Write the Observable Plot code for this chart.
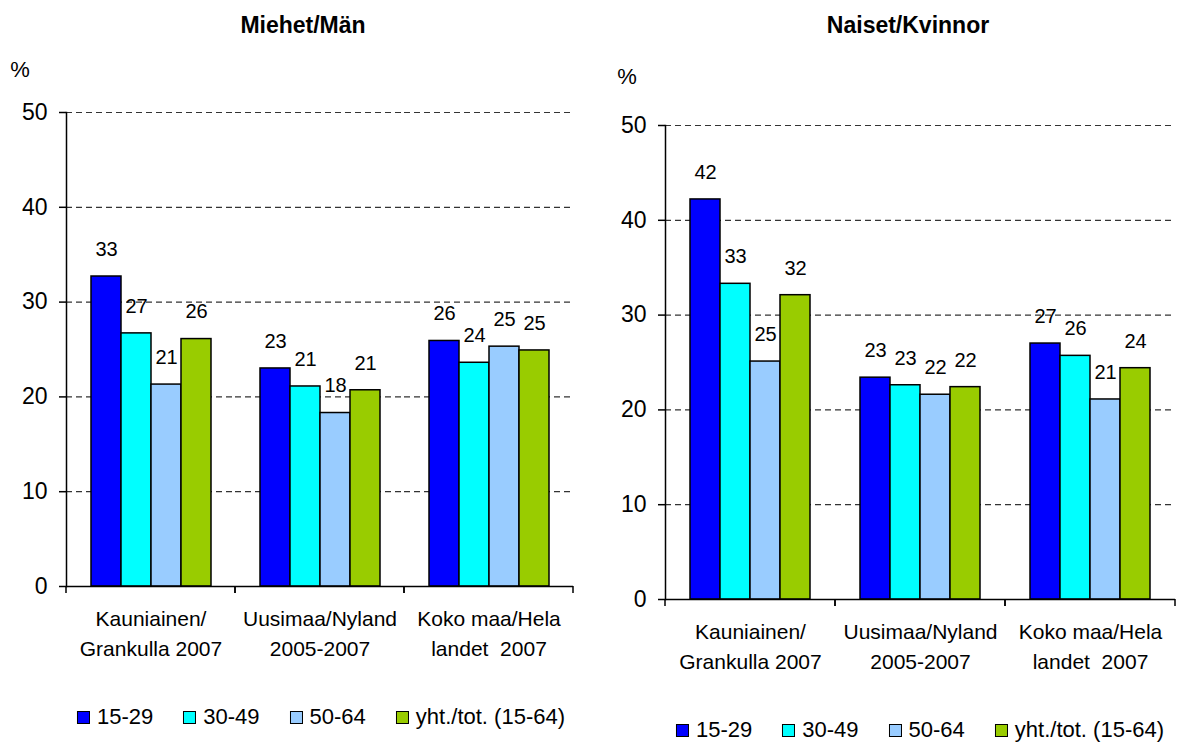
<!DOCTYPE html>
<html><head><meta charset="utf-8">
<script src="https://cdn.jsdelivr.net/npm/d3@7"></script>
<script src="https://cdn.jsdelivr.net/npm/@observablehq/plot@0.6"></script>
<style>
body{margin:0;background:#fff;font-family:"Liberation Sans",Arial,sans-serif;color:#000;}
#root{position:relative;width:1191px;height:742px;overflow:hidden;}
.panel{position:absolute;top:0;height:742px;}
.title{position:absolute;font-weight:bold;font-size:23px;transform:translate(-50%,-50%);white-space:nowrap;line-height:26px;}
.pct{position:absolute;font-size:22px;line-height:24px;transform:translate(-50%,-50%);}
.legend{position:absolute;transform:translate(-50%,-50%);display:flex;align-items:center;white-space:nowrap;font-size:22px;line-height:22px;}
.legend .sw{width:11px;height:11px;border:1.5px solid #000;margin-right:7px;}
.legend .item{display:flex;align-items:center;margin-right:30px;}
.legend .item:last-child{margin-right:0;}
.panel svg{position:absolute;left:0;top:0;}
</style></head><body><div id="root"></div>
<script>
// ---- data ----
const categories = ["Kauniainen/\nGrankulla 2007", "Uusimaa/Nyland\n2005-2007", "Koko maa/Hela\nlandet  2007"];
const series = ["15-29", "30-49", "50-64", "yht./tot. (15-64)"];
const colors = ["#0000FF", "#00FFFF", "#99CCFF", "#99CC00"];
const yTicks = [0, 10, 20, 30, 40, 50];
const menTitle = "Miehet/Män";
const womenTitle = "Naiset/Kvinnor";
const unitLabel = "%";
const men1529 = [32.7, 23.0, 25.9];
const men3049 = [26.7, 21.1, 23.6];
const men5064 = [21.3, 18.3, 25.3];
const menTot  = [26.1, 20.7, 24.9];
const women1529 = [42.2, 23.4, 27.0];
const women3049 = [33.3, 22.6, 25.7];
const women5064 = [25.1, 21.6, 21.1];
const womenTot  = [32.1, 22.4, 24.4];

function toRows(lists) {
  const rows = [];
  categories.forEach((cat, c) => series.forEach((s, i) => rows.push({cat, series: s, value: lists[i][c]})));
  return rows;
}

function boundaryTicks(index, scales, values, dimensions) {
  const x = scales.x, y = scales.y;
  let x0, x1;
  if (x && x.range) { [x0, x1] = x.range(); }
  else { x0 = dimensions.marginLeft; x1 = dimensions.width - dimensions.marginRight; }
  const y0 = y(0);
  const g = d3.create("svg:g").attr("stroke", "#000").attr("stroke-width", 1.5);
  for (const xx of [x0, x1]) g.append("line").attr("x1", xx).attr("x2", xx).attr("y1", y0).attr("y2", y0 + 7);
  return g.node();
}

function chart(rows, dims) {
  return Plot.plot({
    ...dims,
    style: {fontFamily: "Liberation Sans, Arial, sans-serif", fontSize: "22px", color: "#000", background: "transparent", overflow: "visible"},
    fx: {domain: categories, padding: 0, axis: null},
    x: {domain: series, paddingInner: 0, paddingOuter: 0.75, axis: null},
    y: {domain: [0, 50], axis: null},
    color: {domain: series, range: colors},
    marks: [
      Plot.ruleY(yTicks.filter(d => d > 0), {stroke: "#333", strokeDasharray: "6,4", strokeWidth: 1.2}),
      Plot.barY(rows, {fx: "cat", x: "series", y: "value", fill: "series", stroke: "#000", strokeWidth: 1.5}),
      Plot.text(rows, {fx: "cat", x: "series", y: "value", text: d => String(Math.round(d.value)), dy: -27, fontSize: 20, lineAnchor: "middle", fill: "#000"}),
      Plot.ruleY([0], {stroke: "#000", strokeWidth: 1.5}),
      Plot.frame({anchor: "left", facetAnchor: "left", stroke: "#000", strokeWidth: 1.5}),
      Plot.axisY({ticks: yTicks, tickSize: 7, tickPadding: 12, fontSize: 23, label: null, tickFormat: d => String(d), stroke: "#000", strokeWidth: 1.5}),
      Plot.text(categories, {fx: d => d, frameAnchor: "bottom", lineAnchor: "top", dy: 18, fontSize: 21, lineHeight: 1.43, text: d => d, fill: "#000"}),
      boundaryTicks
    ]
  });
}

function legend() {
  const div = document.createElement("div");
  div.className = "legend";
  series.forEach((s, i) => {
    const it = document.createElement("div"); it.className = "item";
    const sw = document.createElement("div"); sw.className = "sw"; sw.style.background = colors[i];
    const t = document.createElement("span"); t.textContent = s;
    it.append(sw, t); div.append(it);
  });
  return div;
}

function panel(left, width, title, titleX, pctX, pctY, lists, dims, legX, legY) {
  const p = document.createElement("div");
  p.className = "panel"; p.style.left = left + "px"; p.style.width = width + "px";
  p.append(chart(toRows(lists), {width, ...dims}));
  const t = document.createElement("div"); t.className = "title"; t.textContent = title;
  t.style.left = titleX + "px"; t.style.top = "25px"; p.append(t);
  const pc = document.createElement("div"); pc.className = "pct"; pc.textContent = unitLabel;
  pc.style.left = pctX + "px"; pc.style.top = pctY + "px"; p.append(pc);
  const lg = legend(); lg.style.left = legX + "px"; lg.style.top = legY + "px"; p.append(lg);
  document.getElementById("root").append(p);
}

panel(0, 600, menTitle, 303, 20, 70, [men1529, men3049, men5064, menTot],
  {height: 690, marginTop: 112, marginBottom: 104, marginLeft: 66, marginRight: 27}, 321, 717);
panel(600, 591, womenTitle, 308, 27, 77, [women1529, women3049, women5064, womenTot],
  {height: 700, marginTop: 125, marginBottom: 101, marginLeft: 64, marginRight: 15}, 320, 730);
</script></body></html>
